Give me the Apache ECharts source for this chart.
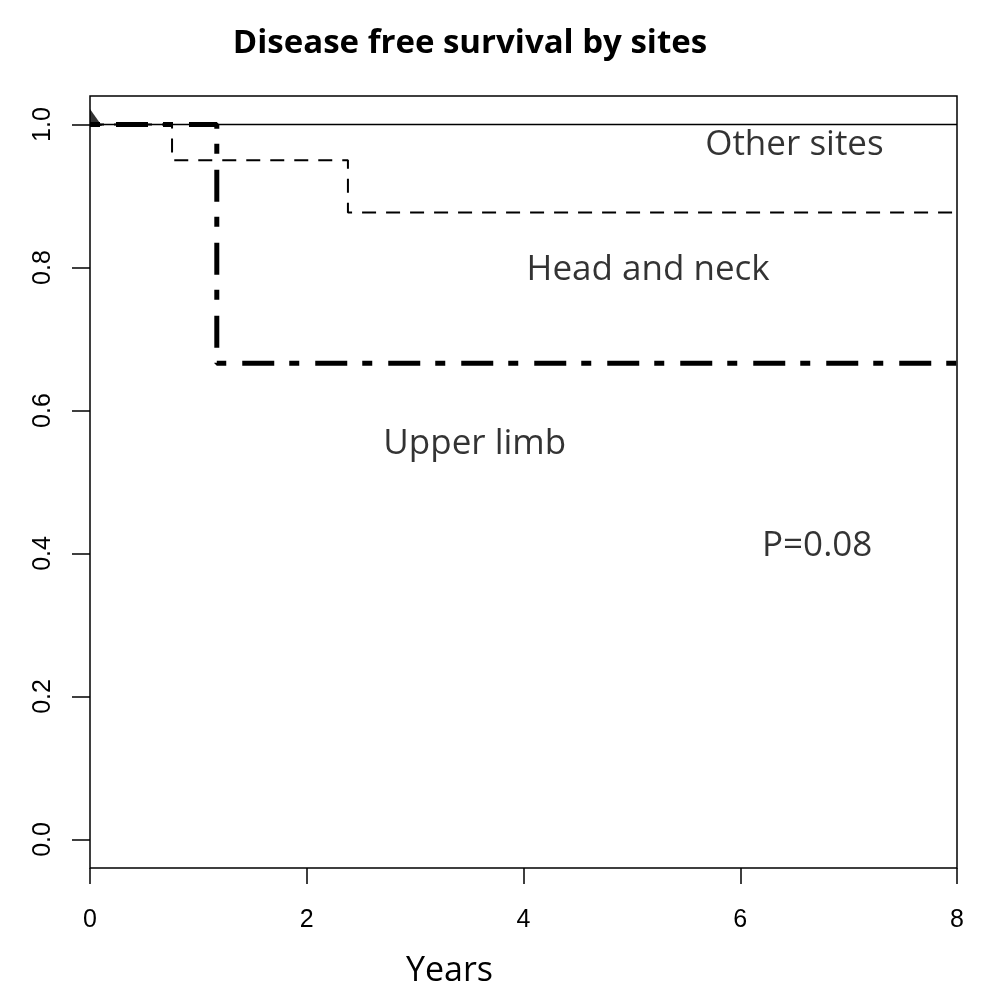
<!DOCTYPE html>
<html><head><meta charset="utf-8">
<script src="https://cdn.jsdelivr.net/npm/echarts@6/dist/echarts.min.js"></script>
<style>html,body{margin:0;padding:0;background:#fff}#c{width:992px;height:990px}</style>
</head><body><div id="c"></div>
<script>
const otherT = [0, 8];
const otherS = [1, 1];
const headT = [0, 0.757, 2.38, 8];
const headS = [1, 0.95, 0.877, 0.877];
const upperT = [0, 1.17, 8];
const upperS = [1, 0.666, 0.666];
const startMark = [[0, 1]];
const yTicks = [0, 0.2, 0.4, 0.6, 0.8, 1.0];
const xTicks = [0, 2, 4, 6, 8];
const notes = [
  {text: 'Other sites', x: 6.50, y: 0.971},
  {text: 'Head and neck', x: 5.15, y: 0.796},
  {text: 'Upper limb', x: 3.55, y: 0.553},
  {text: 'P=0.08', x: 6.71, y: 0.410}
];
const zip = (t, s) => t.map((v, i) => [v, s[i]]);
const chart = echarts.init(document.getElementById('c'), null, {renderer: 'canvas'});
chart.setOption({
  animation: false,
  backgroundColor: '#fff',
  title: {text: 'Disease free survival by sites', left: 465, textAlign: 'center', top: 22, textStyle: {fontFamily: 'Open Sans', fontWeight: 'bold', fontSize: 33, color: '#000'}},
  grid: {left: 90, right: 35, top: 96, bottom: 122, containLabel: false, outerBoundsMode: 'none', show: true, borderColor: '#000', borderWidth: 1.5, backgroundColor: 'transparent'},
  xAxis: {type: 'value', min: 0, max: 8, interval: 2,
    name: 'Years', nameLocation: 'middle', nameGap: 86,
    nameTextStyle: {fontFamily: 'Open Sans', fontSize: 34, color: '#000', padding: [0, 148, 0, 0]},
    axisLine: {show: false, onZero: false}, splitLine: {show: false},
    axisTick: {show: true, length: 16, inside: false, lineStyle: {color: '#000', width: 1.5}},
    axisLabel: {margin: 40, fontFamily: 'Liberation Sans', fontSize: 25, color: '#000'}
  },
  yAxis: {type: 'value', min: -0.04, max: 1.04,
    axisLine: {show: false, onZero: false}, splitLine: {show: false},
    axisTick: {show: true, length: 18, customValues: yTicks, lineStyle: {color: '#000', width: 1.5}},
    axisLabel: {customValues: yTicks, rotate: 90, margin: 34, fontFamily: 'Liberation Sans', fontSize: 25, color: '#000', formatter: v => v.toFixed(1)}
  },
  series: [
    {type: 'line', data: zip(otherT, otherS), step: 'end', symbol: 'none', lineStyle: {color: '#000', width: 1.5}},
    {type: 'line', data: zip(headT, headS), step: 'end', symbol: 'none', lineStyle: {color: '#000', width: 2, type: [14, 10]}},
    {type: 'line', data: zip(upperT, upperS), step: 'end', symbol: 'none', lineStyle: {color: '#000', width: 5, type: [10, 16, 32, 15]}},
    {type: 'scatter', data: startMark, symbol: 'path://M0,0 L0,15 L11,15 Z', symbolSize: [12, 17], symbolOffset: [6, -7], itemStyle: {color: '#000'}, z: 5},
    {type: 'scatter', symbolSize: 0, data: notes.map(n => ({value: [n.x, n.y], name: n.text})),
      label: {show: true, position: [0, 0], align: 'center', verticalAlign: 'middle', formatter: p => p.name, fontFamily: 'Open Sans', fontSize: 35, color: '#000'}}
  ]
});
</script></body></html>
